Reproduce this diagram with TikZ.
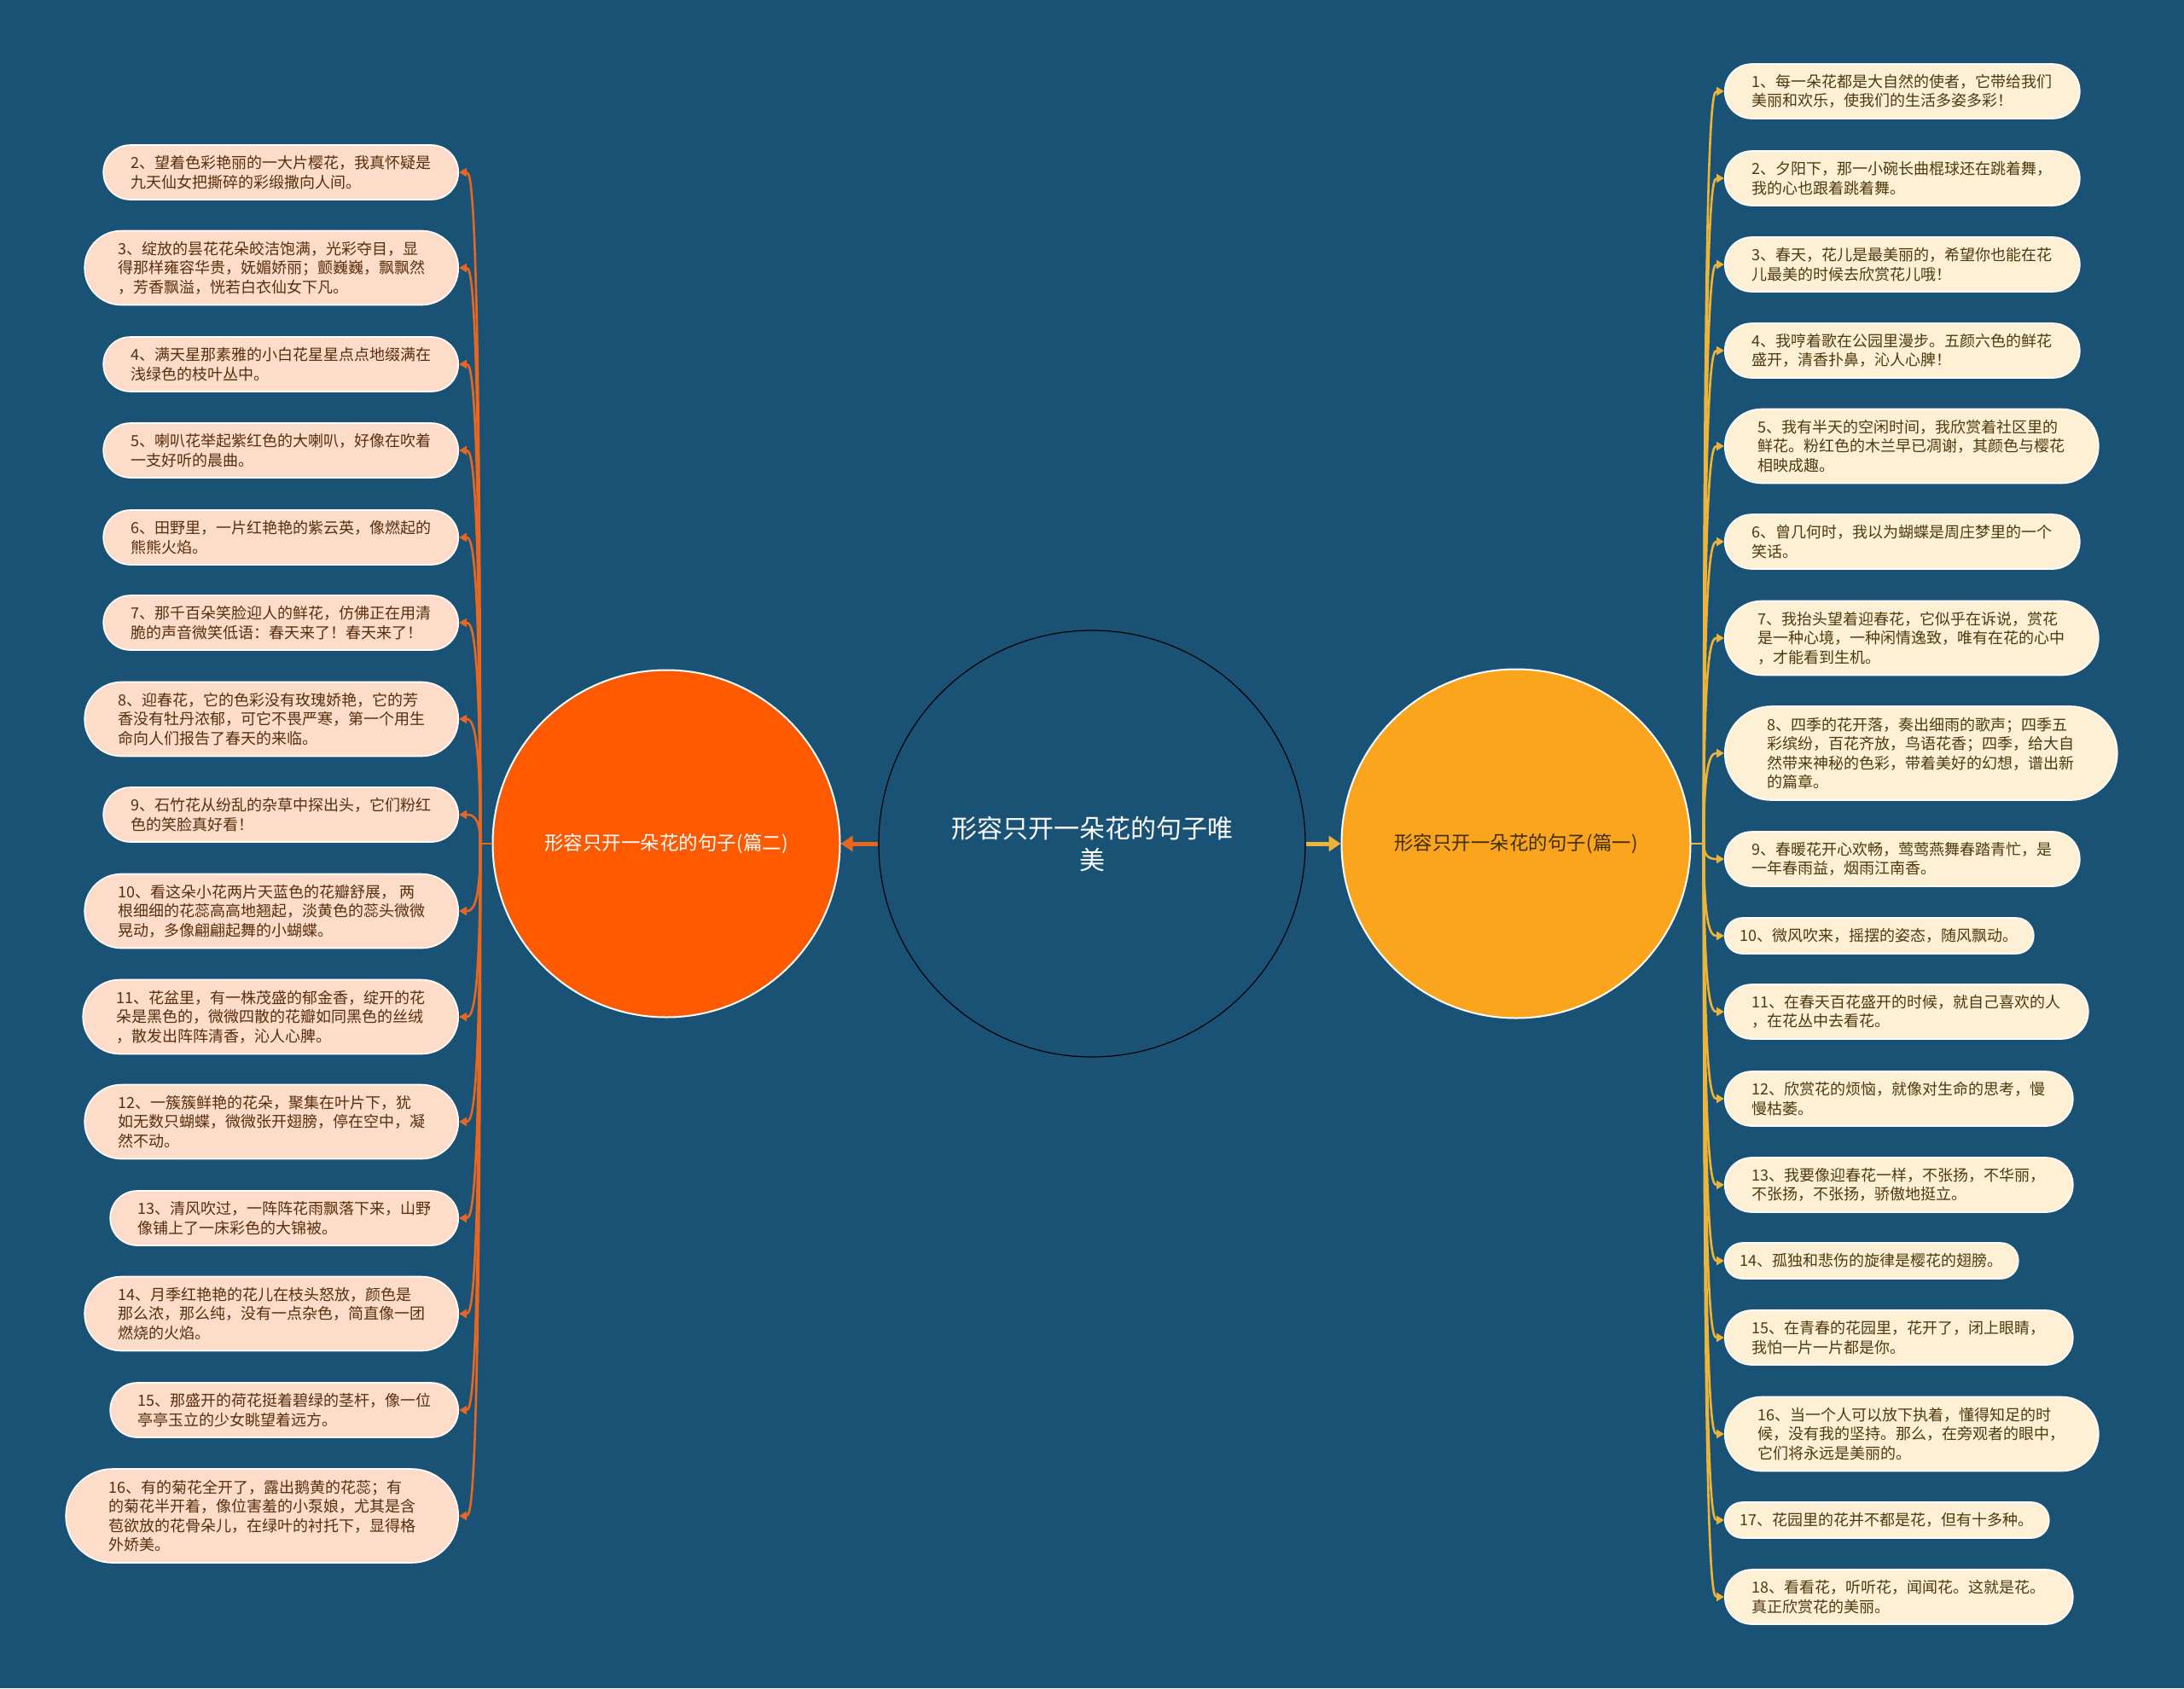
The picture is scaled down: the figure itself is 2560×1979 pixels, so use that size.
\documentclass[tikz,border=0pt]{standalone}
\usepackage{fontspec}
\setmainfont{Noto Sans CJK SC}
\usetikzlibrary{arrows.meta,calc}

\definecolor{bgblue}{HTML}{1A5276}
\definecolor{leftorange}{HTML}{FF5A00}
\definecolor{rightamber}{HTML}{FBA51E}
\definecolor{peach}{HTML}{FDDCC9}
\definecolor{cream}{HTML}{FEF0D4}
\definecolor{linkorange}{HTML}{E8661F}
\definecolor{linkgold}{HTML}{EDB43A}
\definecolor{inkbrown}{HTML}{5A2E0C}
\definecolor{inkolive}{HTML}{4E3A0E}

\begin{document}
\begin{tikzpicture}[x=1pt, y=-1pt,
    leafL/.style={draw=white, line width=1.6pt, fill=peach, text=inkbrown, align=left,
      font=\fontsize{18}{22.5}\selectfont, inner ysep=0pt, anchor=east},
    leafR/.style={leafL, fill=cream, text=inkolive, anchor=west},
    one/.style={minimum height=42, inner xsep=18, rounded corners=20.5},
    two/.style={minimum height=64, inner xsep=32, rounded corners=31.5},
    three/.style={minimum height=87, inner xsep=39, rounded corners=43},
    four/.style={minimum height=110, inner xsep=50, rounded corners=54.5},
    linkL/.style={draw=linkorange, line width=2.6pt},
    linkR/.style={draw=linkgold, line width=2.6pt},
    tipL/.style={linkL, -{Triangle[length=9pt,width=10pt]}},
    tipR/.style={linkR, -{Triangle[length=9pt,width=10pt]}}]

  % background
  \fill[bgblue] (0,0) rectangle (2560,1979);

  % Centre and the two sections
  \node[circle, draw=black, line width=1.2pt, fill=bgblue, minimum size=500pt, text=white,
    align=center, font=\fontsize{30}{37}\selectfont] (root) at (1280, 989)
    {形容只开一朵花的句子唯\\美};
  \node[circle, draw=white, line width=2pt, fill=leftorange, minimum size=407pt, text=white,
    font=\fontsize{22.5}{28}\selectfont] (sec2) at (781, 989) {形容只开一朵花的句子(篇二)};
  \node[circle, draw=white, line width=2pt, fill=rightamber, minimum size=409pt, text=inkolive!80!black,
    font=\fontsize{22.5}{28}\selectfont] (sec1) at (1777, 989) {形容只开一朵花的句子(篇一)};

  \draw[linkL, line width=5pt, -{Triangle[length=14pt,width=18pt]}] (root) -- (sec2);
  \draw[linkR, line width=5pt, -{Triangle[length=14pt,width=18pt]}] (root) -- (sec1);

  % Left branch (篇二)
  \node[leafL, two] (b2) at (538, 202) {2、望着色彩艳丽的一大片樱花，我真怀疑是\\九天仙女把撕碎的彩缎撒向人间。};
  \node[leafL, three] (b3) at (538, 314) {3、绽放的昙花花朵皎洁饱满，光彩夺目，显\\得那样雍容华贵，妩媚娇丽；颤巍巍，飘飘然\\，芳香飘溢，恍若白衣仙女下凡。};
  \node[leafL, two] (b4) at (538, 427) {4、满天星那素雅的小白花星星点点地缀满在\\浅绿色的枝叶丛中。};
  \node[leafL, two] (b5) at (538, 528) {5、喇叭花举起紫红色的大喇叭，好像在吹着\\一支好听的晨曲。};
  \node[leafL, two] (b6) at (538, 630) {6、田野里，一片红艳艳的紫云英，像燃起的\\熊熊火焰。};
  \node[leafL, two] (b7) at (538, 730) {7、那千百朵笑脸迎人的鲜花，仿佛正在用清\\脆的声音微笑低语：春天来了！春天来了！};
  \node[leafL, three] (b8) at (538, 843) {8、迎春花，它的色彩没有玫瑰娇艳，它的芳\\香没有牡丹浓郁，可它不畏严寒，第一个用生\\命向人们报告了春天的来临。};
  \node[leafL, two] (b9) at (538, 955) {9、石竹花从纷乱的杂草中探出头，它们粉红\\色的笑脸真好看！};
  \node[leafL, three] (b10) at (538, 1068) {10、看这朵小花两片天蓝色的花瓣舒展， 两\\根细细的花蕊高高地翘起，淡黄色的蕊头微微\\晃动，多像翩翩起舞的小蝴蝶。};
  \node[leafL, three] (b11) at (538, 1192) {11、花盆里，有一株茂盛的郁金香，绽开的花\\朵是黑色的，微微四散的花瓣如同黑色的丝绒\\，散发出阵阵清香，沁人心脾。};
  \node[leafL, three] (b12) at (538, 1315) {12、一簇簇鲜艳的花朵，聚集在叶片下，犹\\如无数只蝴蝶，微微张开翅膀，停在空中，凝\\然不动。};
  \node[leafL, two] (b13) at (538, 1428) {13、清风吹过，一阵阵花雨飘落下来，山野\\像铺上了一床彩色的大锦被。};
  \node[leafL, three] (b14) at (538, 1540) {14、月季红艳艳的花儿在枝头怒放，颜色是\\那么浓，那么纯，没有一点杂色，简直像一团\\燃烧的火焰。};
  \node[leafL, two] (b15) at (538, 1653) {15、那盛开的荷花挺着碧绿的茎杆，像一位\\亭亭玉立的少女眺望着远方。};
  \node[leafL, four] (b16) at (538, 1777) {16、有的菊花全开了，露出鹅黄的花蕊；有\\的菊花半开着，像位害羞的小泵娘，尤其是含\\苞欲放的花骨朵儿，在绿叶的衬托下，显得格\\外娇美。};

  \coordinate (hubL) at (563, 989);
  \draw[linkL] (sec2) -- (hubL);
  \foreach \n in {b2,b3,b4,b5,b6,b7,b8,b9,b10,b11,b12,b13,b14,b15,b16}
    \draw[tipL] (hubL) .. controls (hubL |- \n.east) and ($(\n.east)+(14,0)$) .. (\n.east);

  % Right branch (篇一)
  \node[leafR, two] (a1) at (2021, 107) {1、每一朵花都是大自然的使者，它带给我们\\美丽和欢乐，使我们的生活多姿多彩！};
  \node[leafR, two] (a2) at (2021, 209) {2、夕阳下，那一小碗长曲棍球还在跳着舞，\\我的心也跟着跳着舞。};
  \node[leafR, two] (a3) at (2021, 310) {3、春天，花儿是最美丽的，希望你也能在花\\儿最美的时候去欣赏花儿哦！};
  \node[leafR, two] (a4) at (2021, 411) {4、我哼着歌在公园里漫步。五颜六色的鲜花\\盛开，清香扑鼻，沁人心脾！};
  \node[leafR, three] (a5) at (2021, 523) {5、我有半天的空闲时间，我欣赏着社区里的\\鲜花。粉红色的木兰早已凋谢，其颜色与樱花\\相映成趣。};
  \node[leafR, two] (a6) at (2021, 635) {6、曾几何时，我以为蝴蝶是周庄梦里的一个\\笑话。};
  \node[leafR, three] (a7) at (2021, 748) {7、我抬头望着迎春花，它似乎在诉说，赏花\\是一种心境，一种闲情逸致，唯有在花的心中\\，才能看到生机。};
  \node[leafR, four] (a8) at (2021, 883) {8、四季的花开落，奏出细雨的歌声；四季五\\彩缤纷，百花齐放，鸟语花香；四季，给大自\\然带来神秘的色彩，带着美好的幻想，谱出新\\的篇章。};
  \node[leafR, two] (a9) at (2021, 1007) {9、春暖花开心欢畅，莺莺燕舞春踏青忙，是\\一年春雨益，烟雨江南香。};
  \node[leafR, one] (a10) at (2021, 1097) {10、微风吹来，摇摆的姿态，随风飘动。};
  \node[leafR, two] (a11) at (2021, 1186) {11、在春天百花盛开的时候，就自己喜欢的人\\，在花丛中去看花。};
  \node[leafR, two] (a12) at (2021, 1288) {12、欣赏花的烦恼，就像对生命的思考，慢\\慢枯萎。};
  \node[leafR, two] (a13) at (2021, 1389) {13、我要像迎春花一样，不张扬，不华丽，\\不张扬，不张扬，骄傲地挺立。};
  \node[leafR, one] (a14) at (2021, 1478) {14、孤独和悲伤的旋律是樱花的翅膀。};
  \node[leafR, two] (a15) at (2021, 1568) {15、在青春的花园里，花开了，闭上眼睛，\\我怕一片一片都是你。};
  \node[leafR, three] (a16) at (2021, 1681) {16、当一个人可以放下执着，懂得知足的时\\候，没有我的坚持。那么，在旁观者的眼中，\\它们将永远是美丽的。};
  \node[leafR, one] (a17) at (2021, 1782) {17、花园里的花并不都是花，但有十多种。};
  \node[leafR, two] (a18) at (2021, 1872) {18、看看花，听听花，闻闻花。这就是花。\\真正欣赏花的美丽。};

  \coordinate (hubR) at (1997, 989);
  \draw[linkR] (sec1) -- (hubR);
  \foreach \n in {a1,a2,a3,a4,a5,a6,a7,a8,a9,a10,a11,a12,a13,a14,a15,a16,a17,a18}
    \draw[tipR] (hubR) .. controls (hubR |- \n.west) and ($(\n.west)+(-14,0)$) .. (\n.west);
\end{tikzpicture}
\end{document}
